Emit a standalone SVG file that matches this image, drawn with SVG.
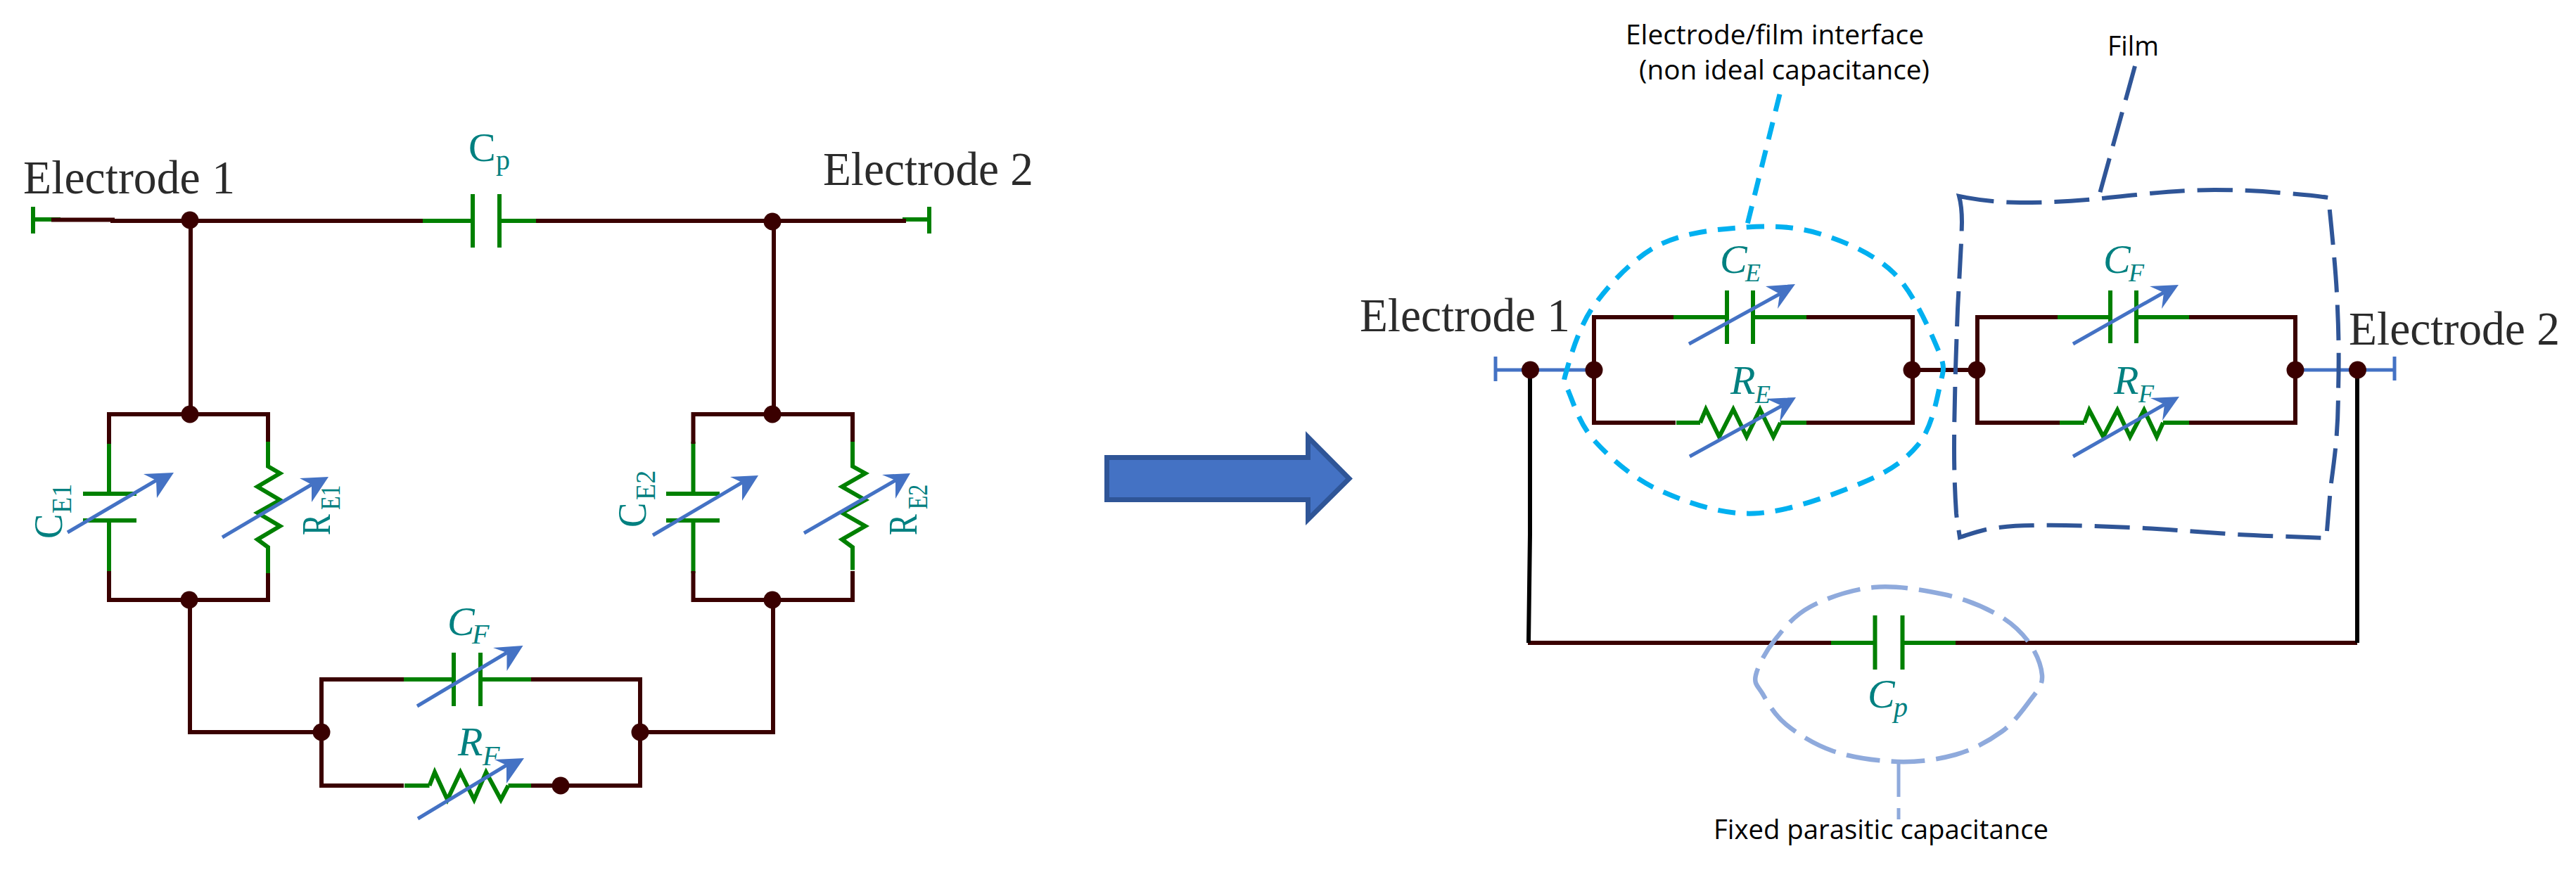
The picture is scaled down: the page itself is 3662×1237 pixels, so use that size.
<svg xmlns="http://www.w3.org/2000/svg" width="3662" height="1237" viewBox="0 0 3662 1237">
<style>
.w{fill:none;stroke:#3a0000;stroke-width:6;stroke-linecap:square;stroke-linejoin:miter}
.g{fill:none;stroke:#008000;stroke-width:6;stroke-linejoin:miter}
.b{fill:none;stroke:#000;stroke-width:6}
.bw{fill:none;stroke:#4472c4;stroke-width:5}
.a{fill:none;stroke:#4472c4;stroke-width:5}
.ah{fill:#4472c4}
.n{fill:#3a0000}
.t{font-family:"Liberation Serif",serif;fill:#008080;font-size:58px}
.i{font-style:italic;font-size:58px}
.r{font-size:56px}
.s{font-size:40px}
.ss{font-size:36px}
.el{font-family:"Liberation Serif",serif;font-size:67px;fill:#2b2b2b}
.c{font-family:"Open Sans","Noto Sans",sans-serif;font-size:38px;fill:#000}
.d1{fill:none;stroke:#00b0f0;stroke-width:7;stroke-dasharray:25 16}
.d2{fill:none;stroke:#2f5597;stroke-width:6;stroke-dasharray:50 18}
.d3{fill:none;stroke:#8faadc;stroke-width:6.5;stroke-dasharray:48 16}
</style>
<g id="connectors">
<path class="g" d="M47 312H86M598 314H672M710 314H765M1283 312H1321M155 628V702M155 740V815M985.500 628V702M985.500 740V815M571 966H645M683 966H758M575 1117H610.500M722.500 1117H758"/>
<path class="w" d="M76 312.500H160V314H598M765 314H1285M271 314V589M155 628V589H381V628M155 815V853H381V815M985.500 628V589H1212V628M985.500 815V853H1212V815M270 853V1041H457M1100 314V589M1099 853V1041H910M571 966H457V1117H571M758 966H910V1117H758"/>
<path class="w" d="M2266 451H2379M2568 451H2719V601H2568M2379 601H2266V451M2719 526H2811M2811 451H2925M3112 451H3263V601H3112M2925 601H2811V451M2175 914H2603M2780 914H3348"/>
<path class="g" d="M2379 451H2455M2492 451H2568M2383 601H2417M2531 601H2568M2925 451H3000M3037 451H3112M2928 601H2963M3075 601H3112M2603 914H2665.500M2704.500 914H2780"/>
<path class="bw" d="M2126 526H2266M3263 526H3404"/>
<path class="b" d="M2175 521V760L2173 914M3351 525V914"/>
</g>
<g id="electrode-1-left"><path class="g" d="M47 294V332"/><text class="el" x="33" y="275" textLength="301" lengthAdjust="spacingAndGlyphs">Electrode 1</text></g>
<g id="electrode-2-left"><path class="g" d="M1321 294V332"/><text class="el" x="1170" y="263" textLength="299" lengthAdjust="spacingAndGlyphs">Electrode 2</text></g>
<g id="junctions-left">
<circle class="n" cx="270" cy="313" r="12.500"/><circle class="n" cx="270" cy="589" r="12.500"/><circle class="n" cx="269" cy="853" r="12.500"/><circle class="n" cx="1098" cy="315" r="12.500"/><circle class="n" cx="1098" cy="589" r="12.500"/><circle class="n" cx="1098" cy="853" r="12.500"/><circle class="n" cx="457" cy="1041" r="12.500"/><circle class="n" cx="910" cy="1041" r="12.500"/><circle class="n" cx="797" cy="1117" r="12.500"/>
</g>
<g id="cp-left"><path class="g" d="M672 276V352M710 276V352"/><text class="t" x="666" y="229">C<tspan class="s" x="705" y="241">p</tspan></text></g>
<g id="ce1">
<path class="g" d="M118 702H194M118 740H194"/>
<path class="a" d="M96 757L222 683"/>
<polygon class="ah" points="247,672 204,674 222,683 223,708"/>
<text class="t r" transform="translate(88 766) rotate(-90) scale(.95 1)">C<tspan class="s" x="38" y="13">E1</tspan></text>
</g>
<g id="re1">
<path class="g" d="M381 628V663L398 673L366 692L398 711L366 729L398 748L366 767L381 778V815"/>
<path class="a" d="M316 764L443 689"/>
<polygon class="ah" points="467,678 426,680 443,689 443,714"/>
<text class="t r" transform="translate(469 761) rotate(-90) scale(.8 1)">R<tspan class="s" x="45" y="14">E1</tspan></text>
</g>
<g id="ce2">
<path class="g" d="M947 702H1023M947 740H1023"/>
<path class="a" d="M928 761L1055 686"/>
<polygon class="ah" points="1078,676 1038,678 1055,686 1055,712"/>
<text class="t r" transform="translate(918 750) rotate(-90) scale(.95 1)">C<tspan class="s" x="41" y="13">E2</tspan></text>
</g>
<g id="re2">
<path class="g" d="M1212 628V663L1230 673L1197 692L1230 711L1197 729L1230 748L1197 767L1212 778V810.500"/>
<path class="a" d="M1143 758L1273 683"/>
<polygon class="ah" points="1294,673 1254,675 1273,683 1273,709"/>
<text class="t r" transform="translate(1303 761) rotate(-90) scale(.8 1)">R<tspan class="s" x="46" y="15">E2</tspan></text>
</g>
<g id="cf-left">
<path class="g" d="M645 928V1004M683 928V1004"/>
<path class="a" d="M593 1004L720.500 928"/>
<polygon class="ah" points="743.500,918 701,921 720.500,928 720.500,954"/>
<text class="t i" x="636" y="903">C<tspan class="s" x="671" y="915">F</tspan></text>
</g>
<g id="rf-left">
<path class="g" d="M610.500 1117L618 1098L636 1137L654.500 1098L674 1137L691 1098L712 1137L722.500 1117"/>
<path class="a" d="M594 1164L720 1088"/>
<polygon class="ah" points="745,1078 703,1080 720,1088 720,1114"/>
<text class="t i" x="651" y="1074">R<tspan class="s" x="686" y="1088">F</tspan></text>
</g>
<g id="big-arrow"><polygon points="1573.500,650.500 1859.500,650.500 1859.500,621.500 1918,680.500 1859.500,738.500 1859.500,710.500 1573.500,710.500" fill="#4472c4" stroke="#2f5597" stroke-width="7" stroke-miterlimit="10"/></g>
<g id="electrode-1-right"><path class="bw" d="M2126 507V542"/><circle class="n" cx="2175.500" cy="526" r="12.500"/><text class="el" x="1933" y="471" textLength="299" lengthAdjust="spacingAndGlyphs">Electrode 1</text></g>
<g id="electrode-2-right"><path class="bw" d="M3404 507V541"/><circle class="n" cx="3351.500" cy="526" r="12.500"/><text class="el" x="3339" y="490" textLength="300" lengthAdjust="spacingAndGlyphs">Electrode 2</text></g>
<g id="ce-right">
<path class="g" d="M2455 413V489M2492 413V489"/>
<path class="a" d="M2401 489L2530 418"/>
<polygon class="ah" points="2552,404 2510,407 2530,418 2527,439"/>
<text class="t i" x="2445" y="388">C<tspan class="ss" x="2481" y="400">E</tspan></text>
</g>
<g id="re-right">
<path class="g" d="M2417 601L2425 582L2444 621L2464 582L2483 621L2502 582L2521 621L2531 601"/>
<path class="a" d="M2402 649L2533 577"/>
<polygon class="ah" points="2553,565 2511,567 2533,577 2530,600"/>
<text class="t i" x="2460" y="560">R<tspan class="ss" x="2495" y="573">E</tspan></text>
</g>
<g id="cf-right">
<path class="g" d="M3000 413V488M3037 413V488"/>
<path class="a" d="M2947 489L3076 416"/>
<polygon class="ah" points="3097,405 3056,407 3076,416 3073,439"/>
<text class="t i" x="2990" y="388">C<tspan class="ss" x="3026" y="400">F</tspan></text>
</g>
<g id="rf-right">
<path class="g" d="M2963 601L2970 583L2990 621L3010 583L3028 621L3048 583L3066 621L3075 601"/>
<path class="a" d="M2947 649L3077 575"/>
<polygon class="ah" points="3098,564 3057,566 3077,575 3074,598"/>
<text class="t i" x="3005" y="560">R<tspan class="ss" x="3040" y="572">F</tspan></text>
</g>
<g id="cp-right">
<path class="g" d="M2665.500 875V952M2704.500 875V952"/>
<text class="t i" x="2655" y="1006">C<tspan class="s" x="2692" y="1019">p</tspan></text>
</g>
<g id="junctions-right">
<circle class="n" cx="2266" cy="526" r="12.500"/><circle class="n" cx="2718" cy="526" r="12.500"/><circle class="n" cx="2810" cy="526" r="12.500"/><circle class="n" cx="3263" cy="526" r="12.500"/>
</g>
<g id="interface-callout">
<path class="d1" d="M2483 323C2521 320.500 2554 322 2589 333C2624 344 2664 361 2692 388C2720 415 2744 471 2755 497C2766 523 2763 525 2758 547C2753 569 2746 609 2727 632C2708 655 2685 671 2646 687C2607 703 2542 728 2494 730C2446 732 2397 714 2359 697C2321 680 2288 650 2267 627C2246 604 2237 574 2230 557C2223 540 2221 548 2227 527C2233 506 2245 463 2267 433C2289 403 2323 366 2359 348C2395 330 2445 325.500 2483 323Z"/>
<path class="d1" d="M2530 134L2483 323"/>
<text class="c" x="2311" y="63" textLength="424" lengthAdjust="spacingAndGlyphs">Electrode/film interface</text>
<text class="c" x="2330" y="113" textLength="413" lengthAdjust="spacingAndGlyphs">(non ideal capacitance)</text>
</g>
<g id="film-callout">
<path class="d2" d="M2785 279C2810 284 2840 288 2872 288C2905 288 2935 287 2967 284C2990 282 3015 279 3037 277C3075 273 3110 270 3148 270C3180 270 3210 271 3240 274C3265 276 3290 278 3310 281C3312 300 3315 330 3317 352C3320 385 3322 410 3323 439C3325 480 3325 520 3324 556C3324 580 3323 605 3321 628C3319 650 3316 672 3313 694C3311 720 3309 745 3307 765C3265 763 3210 762 3166 759C3120 756 3075 752 3028 750C2982 748 2935 746 2890 747C2865 747 2843 749 2823 753C2810 756 2798 760 2786 764C2784 750 2782 740 2781 730C2779 700 2778 670 2778 638C2778 600 2779 562 2780 525C2781 495 2782 465 2783 439C2785 398 2788 358 2789 316C2789 300 2788 290 2785 279Z"/>
<path class="d2" d="M3035 94L2985 275"/>
<text class="c" x="2996" y="79" textLength="73" lengthAdjust="spacingAndGlyphs">Film</text>
</g>
<g id="parasitic-callout">
<path class="d3" d="M2664 835C2696 832 2734 839 2763 845C2792 851 2818 862 2838 873C2858 884 2873 898 2884 913C2895 928 2902 947 2903 960C2904 973 2898 980 2888 993C2878 1006 2864 1027 2846 1040C2828 1053 2805 1066 2780 1073C2755 1080 2726 1084 2697 1083C2668 1082 2632 1077 2606 1068C2580 1059 2556 1044 2539 1030C2522 1016 2513 999 2506 987C2499 975 2493 973 2496 960C2499 947 2510 926 2523 910C2536 894 2549 876 2573 863C2597 850 2632 838 2664 835Z"/>
<path class="d3" d="M2699 1085V1165" style="stroke-width:5"/>
<text class="c" x="2436" y="1193" textLength="476" lengthAdjust="spacingAndGlyphs">Fixed parasitic capacitance</text>
</g>
</svg>
